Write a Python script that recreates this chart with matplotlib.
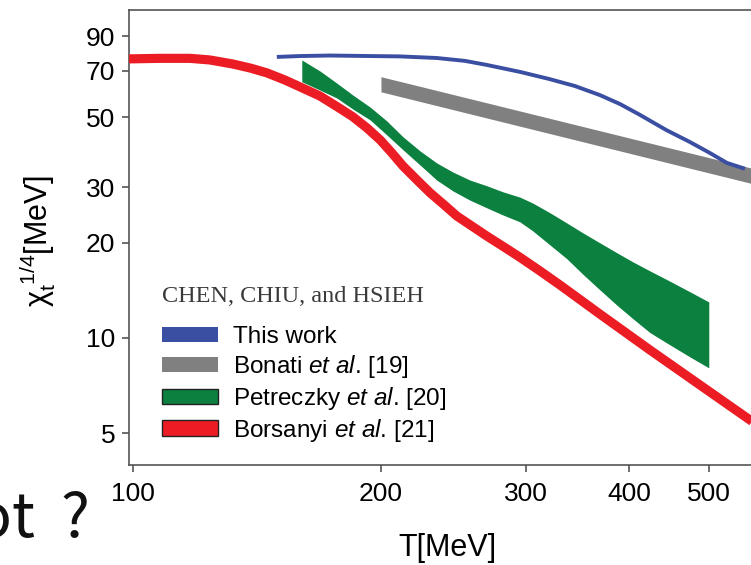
import matplotlib
matplotlib.use("Agg")
import matplotlib.pyplot as plt
from matplotlib.patches import Patch
from matplotlib.ticker import FixedLocator, FixedFormatter, NullLocator

plt.rcParams['font.family'] = ['Liberation Sans', 'DejaVu Sans']
plt.rcParams['mathtext.fontset'] = 'custom'
plt.rcParams['mathtext.rm'] = 'Liberation Sans'
plt.rcParams['mathtext.it'] = 'Liberation Sans:italic'
plt.rcParams['mathtext.bf'] = 'Liberation Sans:bold'

# Axis ticks
x_ticks = [100, 200, 300, 400, 500]
y_ticks = [5, 10, 20, 30, 50, 70, 90]

# This work (topological susceptibility, chi_t^{1/4} in MeV)
this_T = [149.5, 159.5, 173.4, 194.0, 210.9, 233.7, 252.9, 268.9, 294.9, 320.0,
          343.9, 368.7, 390.0, 412.5, 443.9, 474.2, 501.4, 526.0, 553.1]
this_chi = [77.5, 78.0, 78.3, 78.0, 77.8, 76.9, 75.3, 73.1, 69.5, 66.0,
            62.7, 58.7, 55.0, 50.8, 45.5, 41.7, 38.5, 35.8, 34.3]

# Bonati et al. [19] band
bonati_T = [200, 600]
bonati_lo = [60.1, 29.6]
bonati_hi = [67.1, 33.1]

# Petreczky et al. [20] band
petreczky_T = [160.3, 168.6, 176.7, 184.9, 194.0, 203.3, 212.7, 223.0, 233.7, 244.5,
               256.4, 268.9, 281.2, 294.9, 305.8, 320.7, 336.3, 351.7, 368.7, 386.7,
               404.5, 424.1, 444.6, 474.2, 500.0]
petreczky_lo = [64.7, 60.9, 57.5, 53.0, 49.0, 43.9, 39.4, 35.3, 31.6, 29.2,
                27.3, 25.8, 24.5, 23.3, 21.8, 19.7, 17.8, 15.9, 14.2, 12.7,
                11.5, 10.4, 9.64, 8.71, 8.04]
petreczky_hi = [75.8, 70.0, 64.1, 58.7, 53.8, 48.6, 43.3, 39.1, 35.8, 33.5,
                31.6, 30.3, 29.0, 27.9, 26.7, 24.9, 23.1, 21.5, 20.0, 18.6,
                17.4, 16.3, 15.3, 14.0, 13.0]

# Borsanyi et al. [21]
borsanyi_T = [98.9, 107.8, 117.3, 124.0, 132.2, 138.7, 145.4, 152.9, 159.5, 168.6,
              176.4, 184.9, 192.3, 199.6, 206.2, 212.7, 221.2, 229.4, 238.5, 247.3,
              257.8, 268.9, 281.2, 294.9, 311.8, 329.9, 368.7, 424.1, 487.6, 560.9, 593.0]
borsanyi_chi = [76.4, 76.7, 76.7, 75.8, 73.6, 71.5, 69.0, 65.5, 62.3, 58.3,
                54.2, 50.1, 46.2, 42.3, 38.5, 35.0, 31.6, 28.8, 26.4, 24.3,
                22.6, 21.0, 19.5, 18.0, 16.3, 14.7, 11.9, 9.16, 7.10, 5.50, 4.97]

c_blue = '#3a4ea2'
c_gray = '#808080'
c_green = '#0b803f'
c_red = '#ec1c24'

fig = plt.figure(figsize=(7.51, 5.65), dpi=100)
ax = fig.add_axes([129 / 751, 100 / 565, 639 / 751, 455 / 565])
ax.set_xscale('log')
ax.set_yscale('log')
ax.set_xlim(98.9, 590)
ax.set_ylim(3.96, 109.1)

ax.fill_between(petreczky_T, petreczky_lo, petreczky_hi, color=c_green, lw=0, zorder=2)
ax.plot(borsanyi_T, borsanyi_chi, color=c_red, lw=6.6, solid_capstyle='butt',
        solid_joinstyle='round', zorder=3)
ax.fill_between(bonati_T, bonati_lo, bonati_hi, color=c_gray, lw=0, zorder=4)
ax.plot(this_T, this_chi, color=c_blue, lw=2.8, solid_capstyle='butt',
        solid_joinstyle='round', zorder=5)

ax.xaxis.set_major_locator(FixedLocator(x_ticks))
ax.xaxis.set_major_formatter(FixedFormatter([str(t) for t in x_ticks]))
ax.xaxis.set_minor_locator(NullLocator())
ax.yaxis.set_major_locator(FixedLocator(y_ticks))
ax.yaxis.set_major_formatter(FixedFormatter([str(t) for t in y_ticks]))
ax.yaxis.set_minor_locator(NullLocator())

spine_c = '#555555'
for s in ax.spines.values():
    s.set_color(spine_c)
    s.set_linewidth(1.2)
ax.tick_params(axis='both', which='major', direction='out', length=5, width=1.2,
               color=spine_c, labelsize=19, labelcolor='black')
ax.tick_params(axis='x', pad=7)
ax.tick_params(axis='y', pad=5)

ax.set_xlabel('T[MeV]', fontsize=22)
ax.xaxis.set_label_coords(0.4977, -0.149)
ax.set_ylabel(r'$\mathrm{\chi}_{\mathrm{t}}^{\ 1/4}$[MeV]', fontsize=22, va='center')
ax.yaxis.set_label_coords(-0.1424, 0.492)

# Legend
handles = [
    Patch(facecolor=c_blue, edgecolor='none'),
    Patch(facecolor=c_gray, edgecolor='none'),
    Patch(facecolor=c_green, edgecolor='#222222', lw=1.0),
    Patch(facecolor=c_red, edgecolor='#222222', lw=1.0),
]
labels = ['This work', r'Bonati $et\ al$. [19]', r'Petreczky $et\ al$. [20]',
          r'Borsanyi $et\ al$. [21]']
ax.legend(handles, labels, loc='upper left', bbox_to_anchor=(162 / 751, 1 - 326 / 565),
          bbox_transform=fig.transFigure, frameon=False, fontsize=17.5,
          handlelength=2.3, handleheight=0.58, handletextpad=0.62, labelspacing=0.2,
          borderpad=0, borderaxespad=0)
fig.text(162 / 751, 1 - 296 / 565, 'CHEN, CHIU, and HSIEH', family='Liberation Serif',
         fontsize=17.5, color='#3a3a3a', ha='left', va='center')

fig.text(90 / 751, 1 - 537 / 565, 'ot \u2009?', family=['Noto Sans CJK JP', 'DejaVu Sans'],
         fontweight='normal', fontsize=44, color='#111111', ha='right', va='baseline')

fig.savefig('out.png', dpi=100)
